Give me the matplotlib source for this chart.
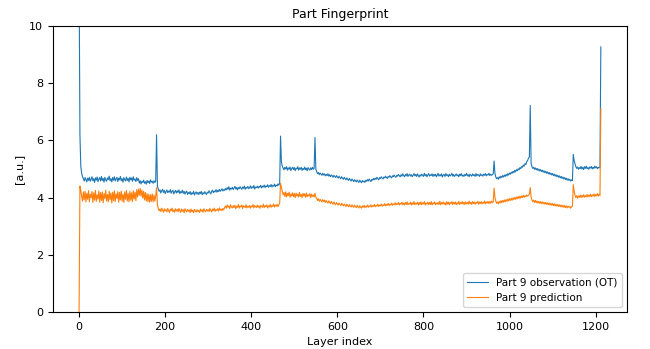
import numpy as np
import matplotlib
matplotlib.use("Agg")
import matplotlib.pyplot as plt

STEP = 2  # layer spacing of the sampled values

# segment start layers (shared by both series)
seg_starts = [0, 180, 468, 548, 964, 1048, 1148]

# Part 9 observation (OT)
obs_1 = [12.0, 6.20, 5.10, 4.85, 4.74, 4.66, 4.58, 4.70, 4.62, 4.55,
         4.68, 4.60, 4.71, 4.57, 4.64, 4.73, 4.59, 4.66, 4.53, 4.69,
         4.61, 4.72, 4.56, 4.65, 4.70, 4.58, 4.74, 4.60, 4.67, 4.54,
         4.71, 4.62, 4.57, 4.69, 4.63, 4.75, 4.59, 4.66, 4.55, 4.70,
         4.61, 4.73, 4.58, 4.65, 4.71, 4.56, 4.68, 4.62, 4.74, 4.59,
         4.66, 4.54, 4.70, 4.63, 4.58, 4.72, 4.60, 4.67, 4.55, 4.71,
         4.62, 4.69, 4.57, 4.73, 4.61, 4.65, 4.56, 4.70, 4.60, 4.66,
         4.51, 4.59, 4.48, 4.57, 4.53, 4.61, 4.50, 4.56, 4.47, 4.60,
         4.52, 4.58, 4.49, 4.62, 4.54, 4.57, 4.50, 4.59, 4.53, 4.56]
obs_2 = [6.20, 4.40, 4.30, 4.22, 4.27, 4.16, 4.24, 4.29, 4.18, 4.25,
         4.14, 4.21, 4.27, 4.17, 4.23, 4.19, 4.28, 4.15, 4.22, 4.26,
         4.13, 4.20, 4.25, 4.16, 4.24, 4.18, 4.27, 4.14, 4.21, 4.17,
         4.26, 4.15, 4.22, 4.12, 4.19, 4.23, 4.11, 4.18, 4.14, 4.21,
         4.10, 4.17, 4.13, 4.22, 4.09, 4.16, 4.20, 4.12, 4.18, 4.11,
         4.19, 4.14, 4.22, 4.10, 4.17, 4.13, 4.21, 4.15, 4.11, 4.19,
         4.16, 4.24, 4.18, 4.13, 4.22, 4.26, 4.17, 4.23, 4.20, 4.28,
         4.19, 4.25, 4.21, 4.29, 4.22, 4.26, 4.31, 4.23, 4.28, 4.25,
         4.32, 4.27, 4.35, 4.29, 4.38, 4.26, 4.33, 4.30, 4.36, 4.28,
         4.34, 4.39, 4.30, 4.36, 4.27, 4.35, 4.31, 4.38, 4.33, 4.29,
         4.37, 4.32, 4.40, 4.29, 4.36, 4.33, 4.39, 4.31, 4.35, 4.41,
         4.32, 4.38, 4.34, 4.42, 4.30, 4.37, 4.35, 4.40, 4.33, 4.39,
         4.36, 4.43, 4.34, 4.40, 4.37, 4.44, 4.35, 4.41, 4.38, 4.45,
         4.36, 4.42, 4.39, 4.46, 4.37, 4.43, 4.40, 4.47, 4.38, 4.44,
         4.41, 4.48, 4.43, 4.50]
obs_3 = [6.15, 5.25, 5.10, 5.03, 4.97, 5.06, 5.00, 5.08, 4.96, 5.04,
         4.99, 5.07, 4.95, 5.02, 5.06, 4.98, 5.05, 4.94, 5.03, 5.00,
         5.08, 4.96, 5.04, 4.99, 5.06, 4.95, 5.02, 4.98, 5.07, 4.97,
         5.03, 4.94, 5.05, 5.00, 4.96, 5.04, 4.98, 5.06, 4.99, 5.02]
obs_4 = [6.10, 5.00, 4.90, 4.84, 4.88, 4.80, 4.86, 4.82, 4.78, 4.85,
         4.79, 4.83, 4.76, 4.81, 4.77, 4.84, 4.75, 4.80, 4.73, 4.79,
         4.76, 4.71, 4.78, 4.74, 4.70, 4.77, 4.72, 4.68, 4.75, 4.70,
         4.66, 4.73, 4.68, 4.64, 4.71, 4.66, 4.62, 4.69, 4.64, 4.60,
         4.67, 4.62, 4.58, 4.65, 4.60, 4.56, 4.63, 4.58, 4.55, 4.62,
         4.57, 4.53, 4.61, 4.56, 4.52, 4.60, 4.55, 4.58, 4.53, 4.61,
         4.57, 4.63, 4.58, 4.65, 4.60, 4.56, 4.64, 4.61, 4.67, 4.62,
         4.68, 4.64, 4.71, 4.66, 4.62, 4.70, 4.67, 4.73, 4.68, 4.65,
         4.72, 4.69, 4.75, 4.70, 4.67, 4.74, 4.71, 4.77, 4.72, 4.69,
         4.76, 4.73, 4.79, 4.74, 4.71, 4.78, 4.75, 4.81, 4.76, 4.73,
         4.80, 4.75, 4.83, 4.77, 4.73, 4.81, 4.76, 4.84, 4.74, 4.79,
         4.82, 4.75, 4.80, 4.73, 4.78, 4.84, 4.76, 4.81, 4.74, 4.83,
         4.77, 4.72, 4.80, 4.75, 4.82, 4.78, 4.74, 4.85, 4.76, 4.81,
         4.73, 4.79, 4.84, 4.75, 4.80, 4.77, 4.83, 4.74, 4.81, 4.76,
         4.82, 4.73, 4.78, 4.85, 4.75, 4.80, 4.76, 4.83, 4.72, 4.79,
         4.81, 4.74, 4.84, 4.77, 4.80, 4.73, 4.82, 4.76, 4.79, 4.85,
         4.75, 4.81, 4.74, 4.78, 4.83, 4.76, 4.80, 4.73, 4.82, 4.77,
         4.84, 4.75, 4.79, 4.74, 4.81, 4.77, 4.85, 4.76, 4.80, 4.73,
         4.82, 4.78, 4.75, 4.83, 4.77, 4.80, 4.74, 4.84, 4.76, 4.81,
         4.79, 4.74, 4.83, 4.77, 4.80, 4.75, 4.82, 4.78, 4.84, 4.76,
         4.81, 4.79, 4.85, 4.77, 4.82, 4.78, 4.80, 4.83]
obs_5 = [5.28, 4.85, 4.72, 4.66, 4.70, 4.64, 4.73, 4.68, 4.75, 4.70,
         4.77, 4.72, 4.79, 4.74, 4.81, 4.76, 4.84, 4.79, 4.86, 4.82,
         4.89, 4.85, 4.92, 4.87, 4.95, 4.90, 4.98, 4.94, 5.01, 4.97,
         5.05, 5.01, 5.09, 5.06, 5.14, 5.10, 5.19, 5.16, 5.26, 5.30,
         5.38, 5.42]
obs_6 = [7.22, 5.20, 5.08, 5.02, 5.06, 4.99, 5.04, 4.97, 5.02, 4.95,
         5.00, 4.93, 4.98, 4.91, 4.96, 4.89, 4.94, 4.87, 4.92, 4.85,
         4.90, 4.83, 4.88, 4.81, 4.86, 4.79, 4.84, 4.77, 4.82, 4.75,
         4.80, 4.73, 4.78, 4.71, 4.76, 4.69, 4.74, 4.67, 4.72, 4.65,
         4.70, 4.63, 4.68, 4.61, 4.66, 4.60, 4.64, 4.58, 4.62, 4.60]
obs_7 = [5.50, 5.30, 5.18, 5.08, 5.02, 5.07, 4.99, 5.05, 5.01, 5.09,
         5.00, 5.06, 4.98, 5.08, 5.02, 5.10, 5.01, 5.05, 4.99, 5.07,
         5.03, 5.09, 5.00, 5.06, 5.02, 5.10, 5.04, 5.08, 5.01, 5.06,
         5.04, 5.07, 9.27]

# Part 9 prediction
pred_1 = [0.00, 4.40, 4.25, 4.05, 3.88, 4.20, 3.92, 4.22, 3.85, 4.15,
          3.94, 4.24, 3.86, 4.12, 4.00, 4.21, 3.83, 4.17, 3.91, 4.25,
          3.87, 4.10, 3.95, 4.23, 3.84, 4.18, 3.90, 4.20, 3.82, 4.14,
          3.96, 4.26, 3.88, 4.11, 3.85, 4.22, 3.93, 4.16, 3.81, 4.19,
          3.89, 4.24, 3.86, 4.13, 3.97, 4.21, 3.84, 4.18, 3.92, 4.23,
          3.87, 4.12, 3.83, 4.20, 3.94, 4.25, 3.88, 4.15, 3.85, 4.22,
          3.91, 4.17, 3.86, 4.24, 3.95, 4.19, 3.89, 4.28, 4.02, 4.30,
          4.08, 4.32, 4.05, 4.26, 3.98, 4.22, 3.92, 4.18, 3.88, 4.14,
          3.86, 4.12, 3.84, 4.10, 3.87, 4.13, 3.85, 4.09, 3.88, 4.06]
pred_2 = [4.35, 3.75, 3.62, 3.54, 3.60, 3.51, 3.63, 3.56, 3.49, 3.61,
          3.53, 3.58, 3.50, 3.62, 3.55, 3.48, 3.60, 3.54, 3.63, 3.51,
          3.57, 3.49, 3.61, 3.53, 3.59, 3.50, 3.62, 3.55, 3.48, 3.60,
          3.52, 3.58, 3.47, 3.61, 3.54, 3.50, 3.59, 3.52, 3.57, 3.48,
          3.60, 3.51, 3.56, 3.47, 3.59, 3.53, 3.49, 3.58, 3.51, 3.55,
          3.48, 3.60, 3.52, 3.57, 3.49, 3.61, 3.54, 3.50, 3.59, 3.53,
          3.58, 3.51, 3.62, 3.55, 3.50, 3.60, 3.54, 3.63, 3.52, 3.58,
          3.55, 3.61, 3.53, 3.64, 3.56, 3.60, 3.54, 3.62, 3.57, 3.65,
          3.70, 3.63, 3.74, 3.66, 3.71, 3.62, 3.75, 3.67, 3.64, 3.72,
          3.65, 3.73, 3.61, 3.70, 3.66, 3.76, 3.63, 3.71, 3.67, 3.74,
          3.62, 3.72, 3.68, 3.65, 3.75, 3.64, 3.70, 3.66, 3.73, 3.63,
          3.71, 3.67, 3.76, 3.64, 3.72, 3.68, 3.65, 3.74, 3.66, 3.71,
          3.63, 3.73, 3.69, 3.66, 3.77, 3.65, 3.72, 3.68, 3.75, 3.64,
          3.71, 3.67, 3.76, 3.66, 3.73, 3.69, 3.78, 3.67, 3.74, 3.70,
          3.77, 3.68, 3.75, 3.80]
pred_3 = [4.50, 4.35, 4.22, 4.10, 4.18, 4.04, 4.20, 4.02, 4.15, 4.07,
          4.19, 4.01, 4.13, 4.06, 4.17, 4.03, 4.14, 4.00, 4.16, 4.05,
          4.12, 4.02, 4.18, 4.04, 4.11, 4.00, 4.15, 4.06, 4.13, 4.01,
          4.16, 4.03, 4.10, 4.05, 4.14, 4.00, 4.12, 4.04, 4.09, 4.02]
pred_4 = [4.15, 4.02, 3.97, 3.90, 3.96, 3.87, 3.94, 3.89, 3.85, 3.93,
          3.86, 3.91, 3.83, 3.90, 3.85, 3.81, 3.89, 3.83, 3.79, 3.87,
          3.81, 3.77, 3.85, 3.79, 3.75, 3.83, 3.78, 3.74, 3.81, 3.76,
          3.72, 3.80, 3.75, 3.71, 3.78, 3.73, 3.69, 3.77, 3.72, 3.68,
          3.76, 3.70, 3.67, 3.75, 3.69, 3.66, 3.74, 3.68, 3.65, 3.73,
          3.67, 3.64, 3.72, 3.66, 3.63, 3.71, 3.66, 3.73, 3.65, 3.70,
          3.67, 3.74, 3.66, 3.71, 3.68, 3.75, 3.67, 3.72, 3.69, 3.76,
          3.68, 3.73, 3.70, 3.77, 3.69, 3.74, 3.71, 3.78, 3.70, 3.75,
          3.72, 3.79, 3.71, 3.76, 3.73, 3.80, 3.72, 3.77, 3.74, 3.81,
          3.73, 3.78, 3.75, 3.82, 3.74, 3.79, 3.76, 3.83, 3.74, 3.80,
          3.77, 3.84, 3.75, 3.81, 3.74, 3.83, 3.76, 3.85, 3.75, 3.80,
          3.77, 3.84, 3.74, 3.82, 3.76, 3.86, 3.75, 3.81, 3.77, 3.84,
          3.74, 3.83, 3.76, 3.85, 3.75, 3.82, 3.78, 3.86, 3.74, 3.81,
          3.77, 3.84, 3.75, 3.83, 3.76, 3.86, 3.74, 3.82, 3.78, 3.85,
          3.75, 3.81, 3.77, 3.84, 3.76, 3.87, 3.75, 3.83, 3.78, 3.85,
          3.76, 3.82, 3.74, 3.86, 3.77, 3.84, 3.75, 3.83, 3.79, 3.86,
          3.76, 3.84, 3.78, 3.85, 3.75, 3.82, 3.77, 3.87, 3.76, 3.83,
          3.79, 3.86, 3.77, 3.84, 3.76, 3.85, 3.78, 3.83, 3.77, 3.88,
          3.78, 3.84, 3.76, 3.86, 3.79, 3.85, 3.77, 3.83, 3.80, 3.87,
          3.77, 3.85, 3.79, 3.86, 3.78, 3.84, 3.80, 3.88, 3.78, 3.85,
          3.81, 3.87, 3.79, 3.86, 3.80, 3.88, 3.82, 3.85]
pred_5 = [4.33, 4.02, 3.88, 3.80, 3.85, 3.78, 3.87, 3.81, 3.89, 3.82,
          3.90, 3.84, 3.92, 3.85, 3.93, 3.87, 3.95, 3.88, 3.96, 3.90,
          3.98, 3.91, 3.99, 3.93, 4.01, 3.94, 4.02, 3.96, 4.04, 3.97,
          4.05, 3.98, 4.06, 4.00, 4.08, 4.01, 4.07, 4.03, 4.09, 4.05,
          4.08, 4.12]
pred_6 = [4.35, 4.02, 3.92, 3.86, 3.91, 3.83, 3.90, 3.82, 3.88, 3.81,
          3.87, 3.80, 3.86, 3.79, 3.85, 3.78, 3.84, 3.77, 3.83, 3.76,
          3.82, 3.75, 3.81, 3.74, 3.80, 3.73, 3.79, 3.72, 3.78, 3.71,
          3.77, 3.70, 3.76, 3.69, 3.75, 3.68, 3.74, 3.67, 3.73, 3.66,
          3.72, 3.65, 3.71, 3.64, 3.70, 3.66, 3.69, 3.63, 3.68, 3.70]
pred_7 = [4.45, 4.22, 4.08, 4.00, 4.07, 3.98, 4.06, 4.01, 4.09, 4.00,
          4.08, 4.02, 4.10, 4.01, 4.07, 4.03, 4.11, 4.02, 4.09, 4.04,
          4.12, 4.03, 4.10, 4.05, 4.13, 4.04, 4.11, 4.06, 4.14, 4.05,
          4.12, 4.08, 7.10]

obs_segments = [obs_1, obs_2, obs_3, obs_4, obs_5, obs_6, obs_7]
pred_segments = [pred_1, pred_2, pred_3, pred_4, pred_5, pred_6, pred_7]


def build(starts, segs):
    xs, ys = [], []
    for s, seg in zip(starts, segs):
        xs.extend(s + STEP * np.arange(len(seg)))
        ys.extend(seg)
    return np.array(xs), np.array(ys)


x_obs, y_obs = build(seg_starts, obs_segments)
x_pred, y_pred = build(seg_starts, pred_segments)

fig = plt.figure(figsize=(6.5, 3.49), dpi=100)
ax = fig.add_axes([0.0815, 0.106, 0.883, 0.8195])
ax.plot(x_obs, y_obs, color="#1f77b4", lw=0.8, label="Part 9 observation (OT)")
ax.plot(x_pred, y_pred, color="#ff7f0e", lw=0.8, label="Part 9 prediction")
ax.set_ylim(0, 10)
ax.set_title("Part Fingerprint", fontsize=9)
ax.set_xlabel("Layer index", fontsize=8)
ax.set_ylabel("[a.u.]", fontsize=8)
ax.tick_params(labelsize=8)
leg = ax.legend(loc="lower right", fontsize=7.5)
for line in leg.get_lines():
    line.set_linewidth(0.8)
fig.savefig("out.png", dpi=100)
